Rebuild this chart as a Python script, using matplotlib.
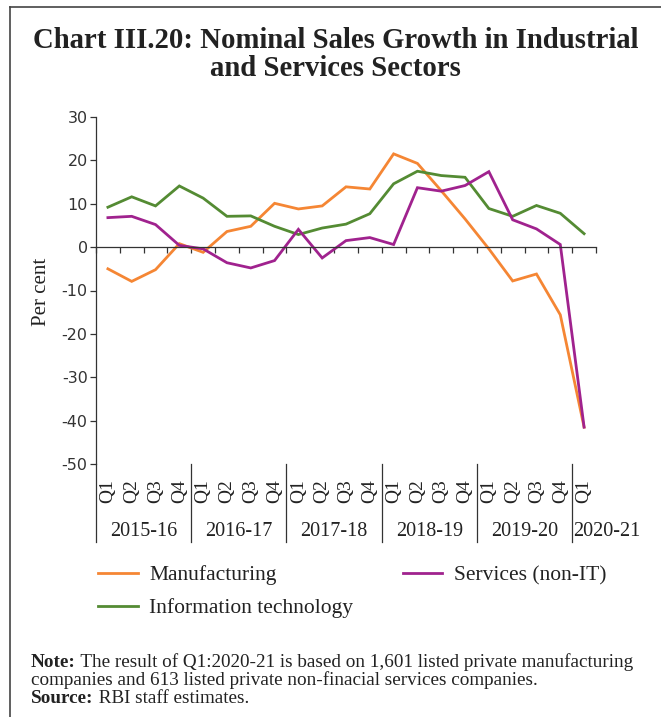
import numpy as np
import matplotlib
matplotlib.use('Agg')
import matplotlib.pyplot as plt
import matplotlib.transforms as mtransforms
from matplotlib.lines import Line2D

W, H = 661, 717

# data (per cent, y-o-y)
quarters = ['Q1', 'Q2', 'Q3', 'Q4'] * 5 + ['Q1']
years = ['2015-16', '2016-17', '2017-18', '2018-19', '2019-20', '2020-21']
year_sizes = [4, 4, 4, 4, 4, 1]
manufacturing = [-5.0, -7.9, -5.2, 0.8, -1.2, 3.6, 4.8, 10.1, 8.8, 9.5, 13.9, 13.4,
                 21.5, 19.3, 13.0, 6.5, -0.4, -7.8, -6.2, -15.6, -41.5]
services = [6.8, 7.1, 5.2, 0.4, -0.4, -3.6, -4.8, -3.1, 4.1, -2.5, 1.5, 2.2,
            0.6, 13.7, 12.9, 14.2, 17.4, 6.3, 4.2, 0.6, -41.5]
info_tech = [9.2, 11.6, 9.5, 14.1, 11.3, 7.1, 7.2, 4.8, 2.9, 4.4, 5.3, 7.7,
             14.6, 17.5, 16.5, 16.1, 8.9, 7.1, 9.6, 7.8, 3.1]
yticks = [30, 20, 10, 0, -10, -20, -30, -40, -50]

c_man = '#F58634'
c_ser = '#A0228E'
c_it = '#548B33'
dark = '#333333'
serif = 'Liberation Serif'


def fx(x):
    return x / W


def fy(y):
    return 1 - y / H


fig = plt.figure(figsize=(W / 100, H / 100), dpi=100)

# axes box in pixel terms: x 96..596, y 117 (30) .. 464 (-50)
ax_l, ax_r, ax_t, ax_b = 96, 596, 117, 464
ax = fig.add_axes([fx(ax_l), fy(ax_b), (ax_r - ax_l) / W, (ax_b - ax_t) / H])

x = np.arange(len(quarters))
ax.plot(x, manufacturing, color=c_man, lw=2.0, label='Manufacturing', solid_joinstyle='miter')
ax.plot(x, info_tech, color=c_it, lw=2.0, label='Information technology', solid_joinstyle='miter')
ax.plot(x, services, color=c_ser, lw=2.0, label='Services (non-IT)', solid_joinstyle='miter')

ax.set_xlim(-0.5, len(quarters) - 0.5)
ax.set_ylim(-50, 30)
ax.set_yticks(yticks)
ax.set_yticklabels([str(v) for v in yticks], fontsize=11.5, color=dark, family='DejaVu Sans')
ax.tick_params(axis='y', direction='out', length=4.5, width=0.9, color=dark, pad=1.5)

for s in ['top', 'right']:
    ax.spines[s].set_visible(False)
ax.spines['left'].set_color(dark)
ax.spines['left'].set_linewidth(0.9)
ax.spines['bottom'].set_position(('data', 0))
ax.spines['bottom'].set_color(dark)
ax.spines['bottom'].set_linewidth(0.9)
ax.set_xticks(np.arange(-0.5, len(quarters), 1))
ax.set_xticklabels([])
ax.tick_params(axis='x', direction='out', length=4.5, width=0.9, color=dark)

# category axis below the plot
trans = mtransforms.blended_transform_factory(ax.transData, ax.transAxes)
h_ax = ax_b - ax_t
q_y = (ax_b - 491) / h_ax
y_y = (ax_b - 531) / h_ax
sep_bot = (ax_b - 542) / h_ax
for i, q in enumerate(quarters):
    ax.text(i, q_y, q, transform=trans, rotation=90, ha='center', va='center',
            fontsize=14, family=serif, color='#222222')

start = 0
for yr, n in zip(years, year_sizes):
    ax.plot([start - 0.5, start - 0.5], [0, sep_bot], transform=trans, color=dark,
            lw=0.9, clip_on=False)
    if n > 1:
        ax.text(start + (n - 1) / 2, y_y, yr, transform=trans, ha='center', va='center',
                fontsize=14.5, family=serif, color='#222222')
    else:
        ax.text(start - 0.45, y_y, yr, transform=trans, ha='left', va='center',
                fontsize=14.5, family=serif, color='#222222')
    start += n

fig.text(fx(42), fy(292), 'Per cent', rotation=90, ha='center', va='center',
         fontsize=15, family=serif, color='#222222')

# title
fig.text(fx(335.5), fy(48), 'Chart III.20: Nominal Sales Growth in Industrial',
         ha='center', va='baseline', fontsize=20.7, fontweight='bold', family=serif,
         color='#222222')
fig.text(fx(335.5), fy(76), 'and Services Sectors',
         ha='center', va='baseline', fontsize=20.7, fontweight='bold', family=serif,
         color='#222222')

# legend
leg = fig.legend(loc='upper left', bbox_to_anchor=(fx(98), fy(565)), ncol=2,
                 frameon=False, borderpad=0, borderaxespad=0,
                 handlelength=1.85, handletextpad=0.52, labelspacing=0.62,
                 columnspacing=2.3, prop={'family': serif, 'size': 15.5})
for t in leg.get_texts():
    t.set_color('#222222')

# note and source
note_fs = 13.8
r = fig.canvas.get_renderer()
lines = [('Note:', ' The result of Q1:2020-21 is based on 1,601 listed private manufacturing', 667),
         ('', 'companies and 613 listed private non-finacial services companies.', 685),
         ('Source:', ' RBI staff estimates.', 703)]
for bold, rest, yb in lines:
    xpos = fx(31)
    if bold:
        tb = fig.text(xpos, fy(yb), bold, ha='left', va='baseline', fontsize=note_fs,
                      fontweight='bold', family=serif, color='#222222')
        bb = tb.get_window_extent(renderer=r)
        xpos = bb.x1 / W
    fig.text(xpos, fy(yb), rest, ha='left', va='baseline', fontsize=note_fs,
             family=serif, color='#222222')

# outer frame (top and left edges visible in the crop)
fig.add_artist(Line2D([fx(10), 1], [fy(7), fy(7)], color='#444444', lw=1.2))
fig.add_artist(Line2D([fx(10), fx(10)], [fy(7), 0], color='#444444', lw=1.2))

fig.savefig('out.png', dpi=100)
